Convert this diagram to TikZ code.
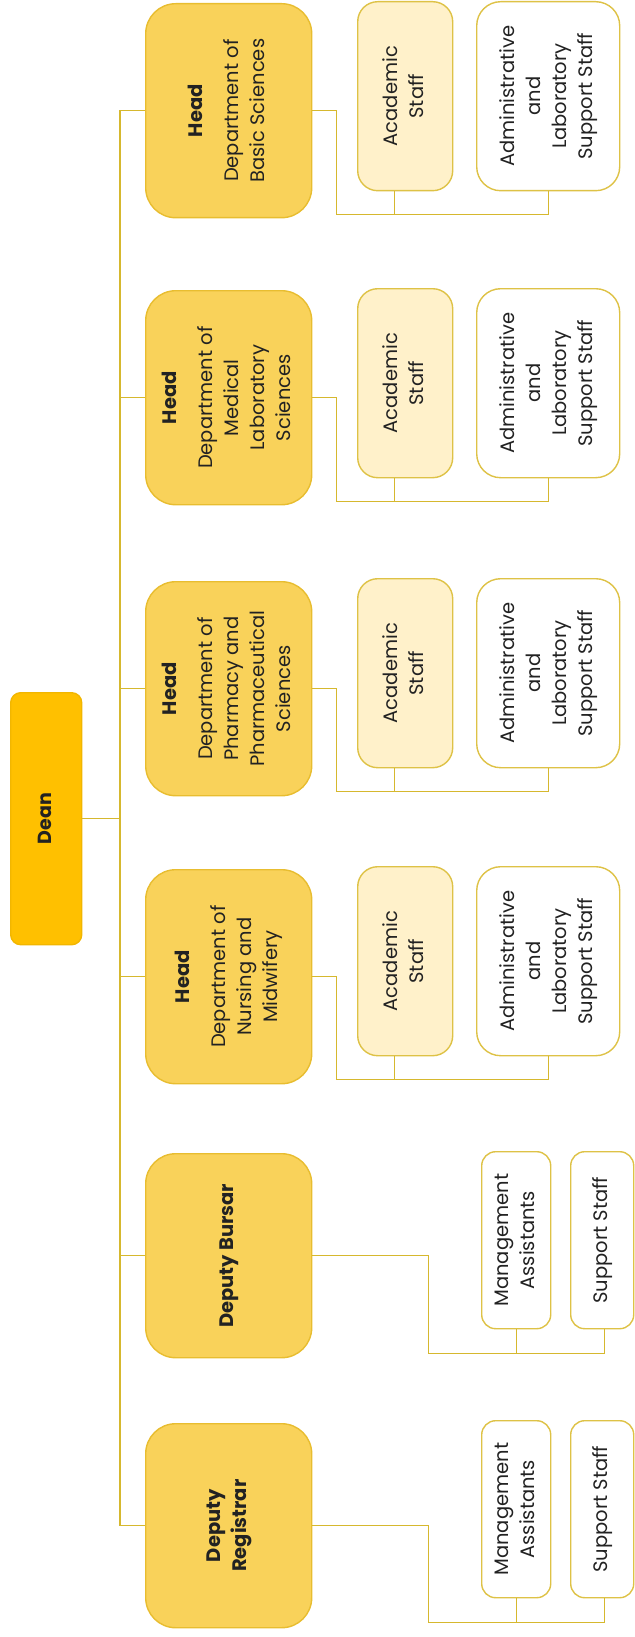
\documentclass[tikz,border=0pt]{standalone}
\usepackage{fontspec}
\setmainfont{Poppins}
\usepackage{graphicx}
\usetikzlibrary{calc}
\definecolor{deanfill}{HTML}{FFC000}
\definecolor{deandraw}{HTML}{F2B600}
\definecolor{headfill}{HTML}{F9D25A}
\definecolor{headdraw}{HTML}{E8BD30}
\definecolor{acadfill}{HTML}{FFF1CA}
\definecolor{boxdraw}{HTML}{DEC246}
\definecolor{linecol}{HTML}{D6B82E}
\definecolor{txt}{HTML}{222222}
\newcommand{\rtxt}[1]{\rotatebox{90}{\fontsize{19.5}{26}\selectfont\begin{tabular}{@{}c@{}}#1\end{tabular}}}
\tikzset{
  box/.style={draw=boxdraw, line width=1.4pt, anchor=north west, inner sep=0pt, text=txt},
  deanbox/.style={box, fill=deanfill, draw=deandraw, minimum width=71pt, minimum height=252pt, rounded corners=10pt},
  headbox/.style={box, fill=headfill, draw=headdraw, minimum width=166pt, minimum height=214pt, rounded corners=30pt},
  offbox/.style={headbox, minimum height=204pt},
  acadbox/.style={box, fill=acadfill, minimum width=95pt, minimum height=189pt, rounded corners=20pt},
  adminbox/.style={box, fill=white, minimum width=143pt, minimum height=189pt, rounded corners=24pt},
  mgbox/.style={box, fill=white, minimum width=69pt, minimum height=177pt, rounded corners=14pt},
  supbox/.style={box, fill=white, minimum width=63pt, minimum height=177pt, rounded corners=14pt},
  conn/.style={draw=linecol, line width=1.4pt}
}
\begin{document}
\begin{tikzpicture}[x=1pt,y=-1pt]
\useasboundingbox (0,0) rectangle (634,1637);
\coordinate (tx) at (120,0);
% Dean
\node[deanbox] (dean) at (10,692) {\rtxt{\fontsize{19}{25}\selectfont\textbf{Dean}}};
% Heads
\node[headbox] (h1) at (145,3) {\rtxt{\textbf{Head}\\[10pt]Department of\\Basic Sciences}};
\node[headbox] (h2) at (145,290) {\rtxt{\textbf{Head}\\[10pt]Department of\\Medical\\Laboratory\\Sciences}};
\node[headbox] (h3) at (145,581) {\rtxt{\textbf{Head}\\[10pt]Department of\\Pharmacy and\\Pharmaceutical\\Sciences}};
\node[headbox] (h4) at (145,869) {\rtxt{\textbf{Head}\\[10pt]Department of\\Nursing and\\Midwifery}};
\node[offbox] (h5) at (145,1153) {\rtxt{\textbf{Deputy Bursar}}};
\node[offbox] (h6) at (145,1423) {\rtxt{\textbf{Deputy}\\\textbf{Registrar}}};
% Children of departments
\node[acadbox] (a1) at (357,1) {\rtxt{Academic\\Staff}};
\node[adminbox] (d1) at (476,1) {\rtxt{Administrative\\and\\Laboratory\\Support Staff}};
\node[acadbox] (a2) at (357,288) {\rtxt{Academic\\Staff}};
\node[adminbox] (d2) at (476,288) {\rtxt{Administrative\\and\\Laboratory\\Support Staff}};
\node[acadbox] (a3) at (357,578) {\rtxt{Academic\\Staff}};
\node[adminbox] (d3) at (476,578) {\rtxt{Administrative\\and\\Laboratory\\Support Staff}};
\node[acadbox] (a4) at (357,866) {\rtxt{Academic\\Staff}};
\node[adminbox] (d4) at (476,866) {\rtxt{Administrative\\and\\Laboratory\\Support Staff}};
% Children of deputies
\node[mgbox] (m5) at (481,1151) {\rtxt{Management\\Assistants}};
\node[supbox] (s5) at (570,1151) {\rtxt{Support Staff}};
\node[mgbox] (m6) at (481,1420) {\rtxt{Management\\Assistants}};
\node[supbox] (s6) at (570,1420) {\rtxt{Support Staff}};
% Trunk and branches
\draw[conn] (h1.west) -| (tx |- h6.west) -- (h6.west);
\draw[conn] (h2.west) -- (h2.west -| tx);
\draw[conn] (h3.west) -- (h3.west -| tx);
\draw[conn] (h4.west) -- (h4.west -| tx);
\draw[conn] (h5.west) -- (h5.west -| tx);
\draw[conn] (dean.east) -- (dean.east -| tx);
% Department connectors
\foreach \i in {1,2,3,4}{
  \draw[conn] (h\i.east) -- ++(24,0) |- ($(d\i.south)+(0,23)$) -- (d\i.south);
  \draw[conn] ([xshift=-11pt]a\i.south) -- ++(0,23);
}
% Deputy connectors
\foreach \i in {5,6}{
  \draw[conn] (h\i.east) -- ++(116,0) |- ($(s\i.south)+(2,24)$) -- ([xshift=2pt]s\i.south);
  \draw[conn] (m\i.south) -- ++(0,24);
}
\end{tikzpicture}
\end{document}
